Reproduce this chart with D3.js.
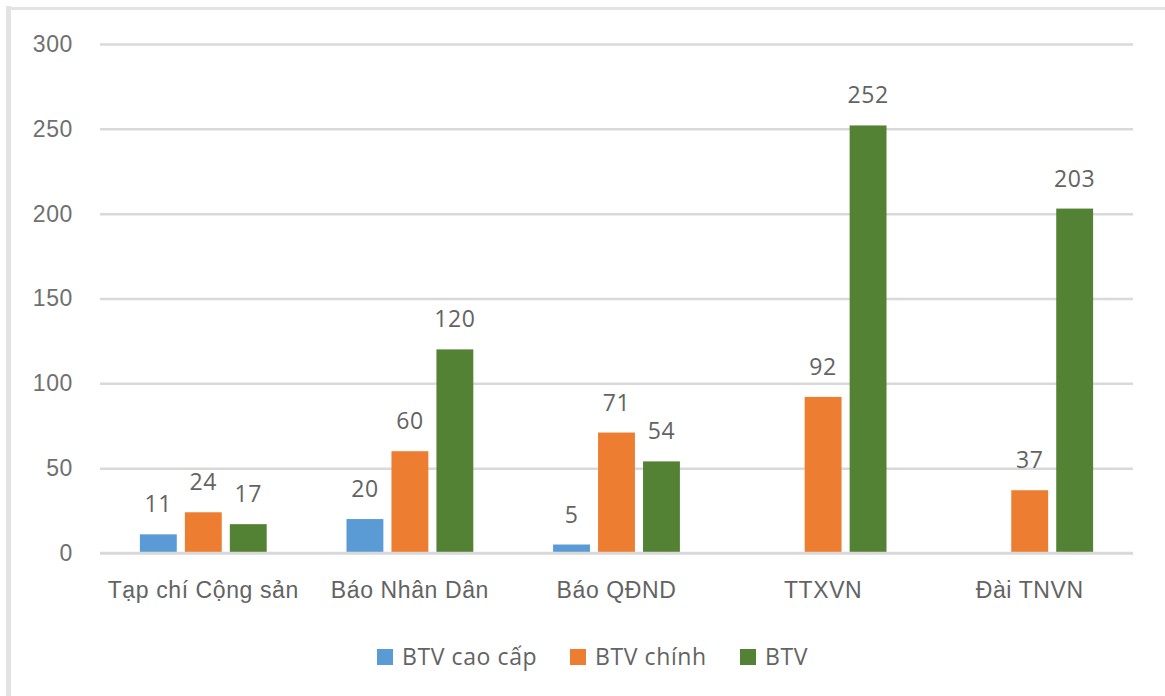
<!DOCTYPE html>
<html>
<head>
<meta charset="utf-8">
<script src="https://cdn.jsdelivr.net/npm/d3@7"></script>
<style>
  body { margin: 0; background: #fff; }
  svg { display: block; font-family: 'Open Sans', Lato, sans-serif; letter-spacing: 0.6px; }
</style>
</head>
<body>
<svg></svg>
<script>
'use strict'

const categories = ['Tạp chí Cộng sản', 'Báo Nhân Dân', 'Báo QĐND', 'TTXVN', 'Đài TNVN']
const seriesNames = ['BTV cao cấp', 'BTV chính', 'BTV']
const btvCaoCap = [11, 20, 5, null, null]
const btvChinh = [24, 60, 71, 92, 37]
const btv = [17, 120, 54, 252, 203]
const yTicks = [0, 50, 100, 150, 200, 250, 300]

const colors = ['#5b9bd5', '#ed7d31', '#548235']
const seriesValues = [btvCaoCap, btvChinh, btv]

const W = 1165, H = 696
const margin = { top: 44, right: 32, bottom: 143, left: 100 }
const width = W - margin.left - margin.right,
  height = H - margin.top - margin.bottom

const svg = d3.select('svg').attr('width', W).attr('height', H)

// frame (only left and top edges are visible)
svg.append('line').attr('x1', 8.5).attr('x2', 8.5).attr('y1', 6).attr('y2', H)
  .attr('stroke', '#e3e3e3').attr('stroke-width', 5)
svg.append('line').attr('x1', 6).attr('x2', W).attr('y1', 8.5).attr('y2', 8.5)
  .attr('stroke', '#e3e3e3').attr('stroke-width', 3)

const g = svg.append('g').attr('transform', 'translate(' + margin.left + ',' + margin.top + ')')

const x0 = d3.scaleBand().domain(categories).range([0, width]).paddingInner(0.347).paddingOuter(0.1735)
const x1 = d3.scaleBand().domain(seriesNames).range([0, x0.bandwidth()]).paddingInner(0.18).paddingOuter(0.09)
const y = d3.scaleLinear().domain([0, 300]).range([height, 0])

const fontSize = '23px'
const textColor = '#636363'

// gridlines + y labels
const yAxis = g.append('g')
  .call(d3.axisLeft(y).tickValues(yTicks).tickSize(-width).tickPadding(27))
yAxis.select('.domain').remove()
yAxis.selectAll('.tick line').attr('stroke', '#d9d9d9').attr('stroke-width', 2.5)
yAxis.selectAll('.tick text').attr('fill', '#707070').style('font-size', fontSize)

// bars
const rows = categories.map((c, i) => ({
  cat: c,
  vals: seriesNames.map((s, j) => ({ s: s, v: seriesValues[j][i], c: colors[j] }))
}))

const groups = g.selectAll('.grp').data(rows).enter().append('g')
  .attr('transform', d => 'translate(' + x0(d.cat) + ',0)')

groups.selectAll('rect').data(d => d.vals.filter(v => v.v != null)).enter().append('rect')
  .attr('x', d => x1(d.s))
  .attr('width', x1.bandwidth())
  .attr('y', d => y(d.v))
  .attr('height', d => y(0) - y(d.v))
  .attr('fill', d => d.c)

groups.selectAll('text').data(d => d.vals.filter(v => v.v != null)).enter().append('text')
  .attr('x', d => x1(d.s) + x1.bandwidth() / 2)
  .attr('y', d => y(d.v) - 22)
  .attr('text-anchor', 'middle')
  .attr('fill', textColor)
  .style('font-size', fontSize)
  .text(d => d.v)

// baseline
g.append('line').attr('x1', 0).attr('x2', width).attr('y1', y(0)).attr('y2', y(0))
  .attr('stroke', '#d9d9d9').attr('stroke-width', 2.5)

// x axis labels
const xAxis = g.append('g').attr('transform', 'translate(0,' + height + ')')
  .call(d3.axisBottom(x0).tickSize(0).tickPadding(29))
xAxis.select('.domain').remove()
xAxis.selectAll('.tick text').attr('fill', textColor).style('font-size', fontSize)

// legend
const legendItems = [
  { name: seriesNames[0], x: 377 },
  { name: seriesNames[1], x: 570 },
  { name: seriesNames[2], x: 740 }
]
const legend = svg.append('g')
legendItems.forEach((d, i) => {
  legend.append('rect').attr('x', d.x).attr('y', 649).attr('width', 16).attr('height', 16).attr('fill', colors[i])
  legend.append('text').attr('x', d.x + 25).attr('y', 665).attr('fill', textColor)
    .style('font-size', fontSize).text(d.name)
})
</script>
</body>
</html>
